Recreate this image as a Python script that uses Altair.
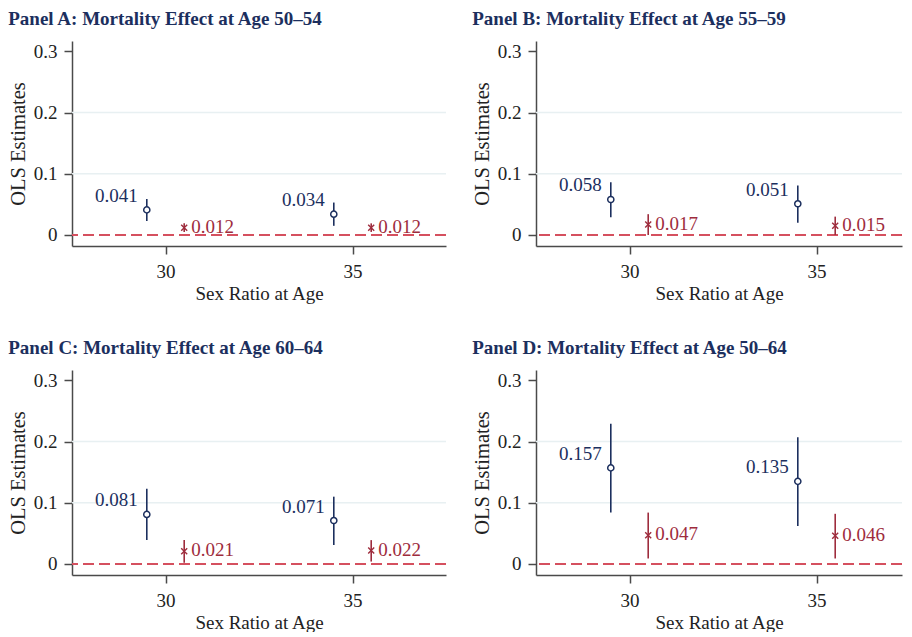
import altair as alt
import pandas as pd

panel_titles = [
    "Panel A: Mortality Effect at Age 50\u201354",
    "Panel B: Mortality Effect at Age 55\u201359",
    "Panel C: Mortality Effect at Age 60\u201364",
    "Panel D: Mortality Effect at Age 50\u201364",
]
blue_x = [29.5, 34.5]
red_x = [30.5, 35.5]
blue_est = [[0.041, 0.034], [0.058, 0.051], [0.081, 0.071], [0.157, 0.135]]
blue_lo = [[0.023, 0.015], [0.029, 0.020], [0.039, 0.031], [0.084, 0.062]]
blue_hi = [[0.059, 0.053], [0.086, 0.081], [0.123, 0.110], [0.229, 0.207]]
red_est = [[0.012, 0.012], [0.017, 0.015], [0.021, 0.022], [0.047, 0.046]]
red_lo = [[0.005, 0.005], [0.000, 0.000], [0.002, 0.004], [0.009, 0.009]]
red_hi = [[0.019, 0.019], [0.034, 0.030], [0.039, 0.039], [0.084, 0.082]]
grid_values = [0.1, 0.2]
zero_value = [0.0]
y_ticks = [0, 0.1, 0.2, 0.3]
x_ticks = [30, 35]

FONT = "Liberation Serif"
NAVY = "#1c2f5e"
RED = "#9e2c3d"
DASH = "#d5505f"
GRID = "#e8f0f2"
AXIS = "#4a4a4a"
TXT = "#222222"
X_SHAPE = "M -1 -1 L 1 1 M -1 1 L 1 -1"


def panel(i, width, xmax):
    df_b = pd.DataFrame({"x": blue_x, "est": blue_est[i], "lo": blue_lo[i], "hi": blue_hi[i]})
    df_r = pd.DataFrame({"x": red_x, "est": red_est[i], "lo": red_lo[i], "hi": red_hi[i]})
    df_g = pd.DataFrame({"g": grid_values})
    df_z = pd.DataFrame({"z": zero_value})

    xsc = alt.Scale(domain=[27.5, xmax], nice=False, zero=False)
    ysc = alt.Scale(domain=[-0.018, 0.317], nice=False, zero=False)
    xax = alt.Axis(values=x_ticks, title="Sex Ratio at Age", format="d")
    yax = alt.Axis(values=y_ticks, title="OLS Estimates", format=".1~f")

    grid = alt.Chart(df_g).mark_rule(color=GRID, strokeWidth=1.5).encode(
        y=alt.Y("g:Q", scale=ysc, axis=yax)
    )
    zero = alt.Chart(df_z).mark_rule(color=DASH, strokeWidth=2, strokeDash=[11, 5]).encode(
        y=alt.Y("z:Q", scale=ysc, axis=yax)
    )
    b_ci = alt.Chart(df_b).mark_rule(color=NAVY, strokeWidth=1.6).encode(
        x=alt.X("x:Q", scale=xsc, axis=xax),
        y=alt.Y("lo:Q", scale=ysc, axis=yax),
        y2="hi:Q",
    )
    r_ci = alt.Chart(df_r).mark_rule(color=RED, strokeWidth=1.6).encode(
        x=alt.X("x:Q", scale=xsc, axis=xax),
        y=alt.Y("lo:Q", scale=ysc, axis=yax),
        y2="hi:Q",
    )
    b_pt = alt.Chart(df_b).mark_point(
        shape="circle", filled=True, fill="white", stroke=NAVY, strokeWidth=1.5, size=38, opacity=1
    ).encode(x=alt.X("x:Q", scale=xsc, axis=xax), y=alt.Y("est:Q", scale=ysc, axis=yax))
    r_pt = alt.Chart(df_r).mark_point(
        shape=X_SHAPE, filled=False, stroke=RED, strokeWidth=1.4, size=36, opacity=1
    ).encode(x=alt.X("x:Q", scale=xsc, axis=xax), y=alt.Y("est:Q", scale=ysc, axis=yax))
    b_tx = alt.Chart(df_b).mark_text(
        align="right", baseline="middle", dx=-9, dy=-14, font=FONT, fontSize=19, color=NAVY
    ).encode(
        x=alt.X("x:Q", scale=xsc, axis=xax),
        y=alt.Y("est:Q", scale=ysc, axis=yax),
        text=alt.Text("est:Q", format=".3f"),
    )
    r_tx = alt.Chart(df_r).mark_text(
        align="left", baseline="middle", dx=7, dy=-1, font=FONT, fontSize=19, color=RED
    ).encode(
        x=alt.X("x:Q", scale=xsc, axis=xax),
        y=alt.Y("est:Q", scale=ysc, axis=yax),
        text=alt.Text("est:Q", format=".3f"),
    )
    return alt.layer(grid, zero, b_ci, r_ci, b_pt, r_pt, b_tx, r_tx).properties(
        width=width,
        height=205,
        title=alt.TitleParams(
            panel_titles[i],
            anchor="start",
            frame="bounds",
            font=FONT,
            fontSize=19,
            fontWeight="bold",
            color=NAVY,
            offset=12,
        ),
    )


row1 = alt.hconcat(panel(0, 374, 37.5), panel(1, 366, 37.286), spacing=25)
row2 = alt.hconcat(panel(2, 374, 37.5), panel(3, 366, 37.286), spacing=25)
chart = (
    alt.vconcat(row1, row2, spacing=36)
    .properties(padding={"top": 2, "left": 0, "right": 0, "bottom": 0})
    .configure_view(stroke=None)
    .configure_axis(
        labelFont=FONT,
        titleFont=FONT,
        labelFontSize=19,
        titleFontSize=19,
        titleFontWeight="normal",
        labelColor=TXT,
        titleColor=TXT,
        domainColor=AXIS,
        domainWidth=1.5,
        tickColor=AXIS,
        tickWidth=1.5,
        tickSize=8,
        grid=False,
    )
    .configure_axisY(labelPadding=7, titlePadding=5, titleFontSize=20.5)
    .configure_axisX(labelPadding=8, titlePadding=3)
)

chart.save("out.html", embed_options={"renderer": "svg", "actions": False})
